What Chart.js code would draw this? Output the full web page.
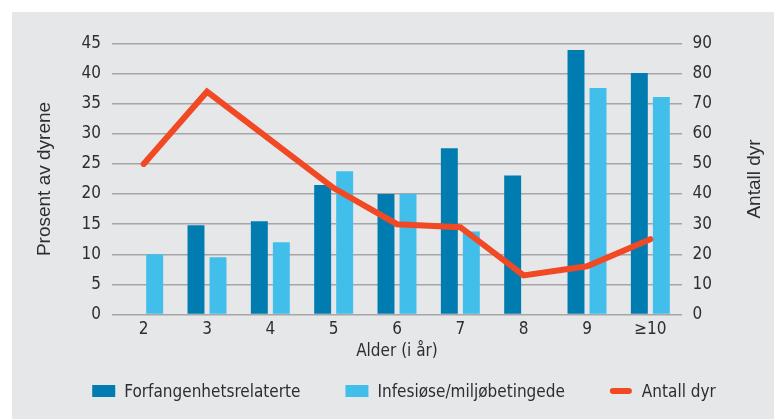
<!DOCTYPE html>
<html lang="no">
<head>
<meta charset="UTF-8">
<title>Alder og dyr</title>
<script src="https://cdn.jsdelivr.net/npm/chart.js"></script>
<style>
  body { margin: 0; background: #fff; }
  .ramme { position: absolute; left: 12px; top: 12px; width: 762px; height: 407px; background: #e6e7e9; }
</style>
</head>
<body>
<div class="ramme"><canvas id="figur" width="762" height="407"></canvas></div>
<script>
// Data lest av figuren
const kategorier = ['2', '3', '4', '5', '6', '7', '8', '9', '≥10'];
const forfangenhet = [null, 14.8, 15.5, 21.5, 20.0, 27.6, 23.1, 43.9, 40.1];
const infeksjon = [10.0, 9.5, 12.0, 23.8, 20.0, 13.8, null, 37.6, 36.1];
const antallDyr = [50, 74, 58, 42, 30, 29, 13, 16, 25];

const smal = '"Liberation Sans Narrow", "DejaVu Sans Condensed", sans-serif';
const vanlig = '"Liberation Sans", Arial, sans-serif';
const tekstfarge = '#2e2e2e';
const gitterfarge = '#a6a6a8';

// Egen tegnforklaring under figuren
const tegnforklaring = {
    id: 'tegnforklaring',
    afterDraw(chart) {
        const ctx = chart.ctx;
        ctx.save();
        ctx.font = '17px ' + smal;
        ctx.textBaseline = 'alphabetic';
        ctx.fillStyle = tekstfarge;
        const boks = 23, mellom = 9, avstand = 45;
        const elementer = chart.data.datasets.map(ds => ({
            tekst: ds.label,
            farge: ds.type === 'line' ? ds.borderColor : ds.backgroundColor,
            linje: ds.type === 'line',
            bredde: ctx.measureText(ds.label).width
        }));
        let total = 0;
        elementer.forEach((e, i) => { total += boks + mellom + e.bredde + (i > 0 ? avstand : 0); });
        let x = 392 - total / 2;
        const midt = 379, grunnlinje = 385;
        elementer.forEach(e => {
            if (e.linje) {
                ctx.strokeStyle = e.farge;
                ctx.lineWidth = 6;
                ctx.lineCap = 'round';
                ctx.beginPath();
                ctx.moveTo(x + 3, midt);
                ctx.lineTo(x + boks - 4, midt);
                ctx.stroke();
            } else {
                ctx.fillStyle = e.farge;
                ctx.fillRect(x, midt - 6, boks, 12);
            }
            ctx.fillStyle = tekstfarge;
            ctx.fillText(e.tekst, x + boks + mellom, grunnlinje);
            x += boks + mellom + e.bredde + avstand;
        });
        ctx.restore();
    }
};

// Aksetittel til høyre, lest nedenfra og opp
const hoyreTittel = {
    id: 'hoyreTittel',
    afterDraw(chart) {
        const ctx = chart.ctx;
        const a = chart.chartArea;
        ctx.save();
        ctx.translate(743, (a.top + a.bottom) / 2);
        ctx.rotate(-Math.PI / 2);
        ctx.font = '19px ' + vanlig;
        ctx.fillStyle = tekstfarge;
        ctx.textAlign = 'center';
        ctx.textBaseline = 'middle';
        ctx.fillText('Antall dyr', 0, 0);
        ctx.restore();
    }
};

new Chart(document.getElementById('figur'), {
    data: {
        labels: kategorier,
        datasets: [
            {
                type: 'bar',
                label: 'Forfangenhetsrelaterte',
                data: forfangenhet,
                backgroundColor: '#007cb0',
                yAxisID: 'y',
                order: 1
            },
            {
                type: 'bar',
                label: 'Infesiøse/miljøbetingede',
                data: infeksjon,
                backgroundColor: '#41bfea',
                yAxisID: 'y',
                order: 1
            },
            {
                type: 'line',
                label: 'Antall dyr',
                data: antallDyr,
                borderColor: '#f04923',
                borderWidth: 6,
                borderCapStyle: 'round',
                borderJoinStyle: 'miter',
                pointRadius: 0,
                tension: 0,
                yAxisID: 'y1',
                order: 0
            }
        ]
    },
    options: {
        responsive: false,
        animation: false,
        categoryPercentage: 0.695,
        barPercentage: 0.77,
        layout: { padding: { top: 31.5, left: 0, right: 0, bottom: 0 } },
        plugins: {
            legend: { display: false },
            tooltip: { enabled: false }
        },
        scales: {
            x: {
                grid: { display: false },
                border: { display: false },
                ticks: { color: tekstfarge, font: { family: smal, size: 17 }, padding: -3 },
                title: {
                    display: true,
                    text: 'Alder (i år)',
                    color: tekstfarge,
                    font: { family: smal, size: 17 },
                    padding: { top: 0, bottom: 57 }
                },
                afterFit(skala) { skala.height = 104.5; }
            },
            y: {
                position: 'left',
                min: 0,
                max: 45,
                ticks: { stepSize: 5, color: tekstfarge, font: { family: smal, size: 17 }, padding: 11 },
                grid: { color: gitterfarge, lineWidth: 1.5, drawTicks: false },
                border: { display: false },
                title: {
                    display: true,
                    text: 'Prosent av dyrene',
                    color: tekstfarge,
                    font: { family: vanlig, size: 19 },
                    padding: { top: 21.6, bottom: 0 }
                },
                afterFit(skala) { skala.width = 100; }
            },
            y1: {
                position: 'right',
                min: 0,
                max: 90,
                ticks: { stepSize: 10, color: tekstfarge, font: { family: smal, size: 17 }, padding: 10.5 },
                grid: { display: false, drawTicks: false },
                border: { display: false },
                afterFit(skala) { skala.width = 92; }
            }
        }
    },
    plugins: [tegnforklaring, hoyreTittel]
});
</script>
</body>
</html>
